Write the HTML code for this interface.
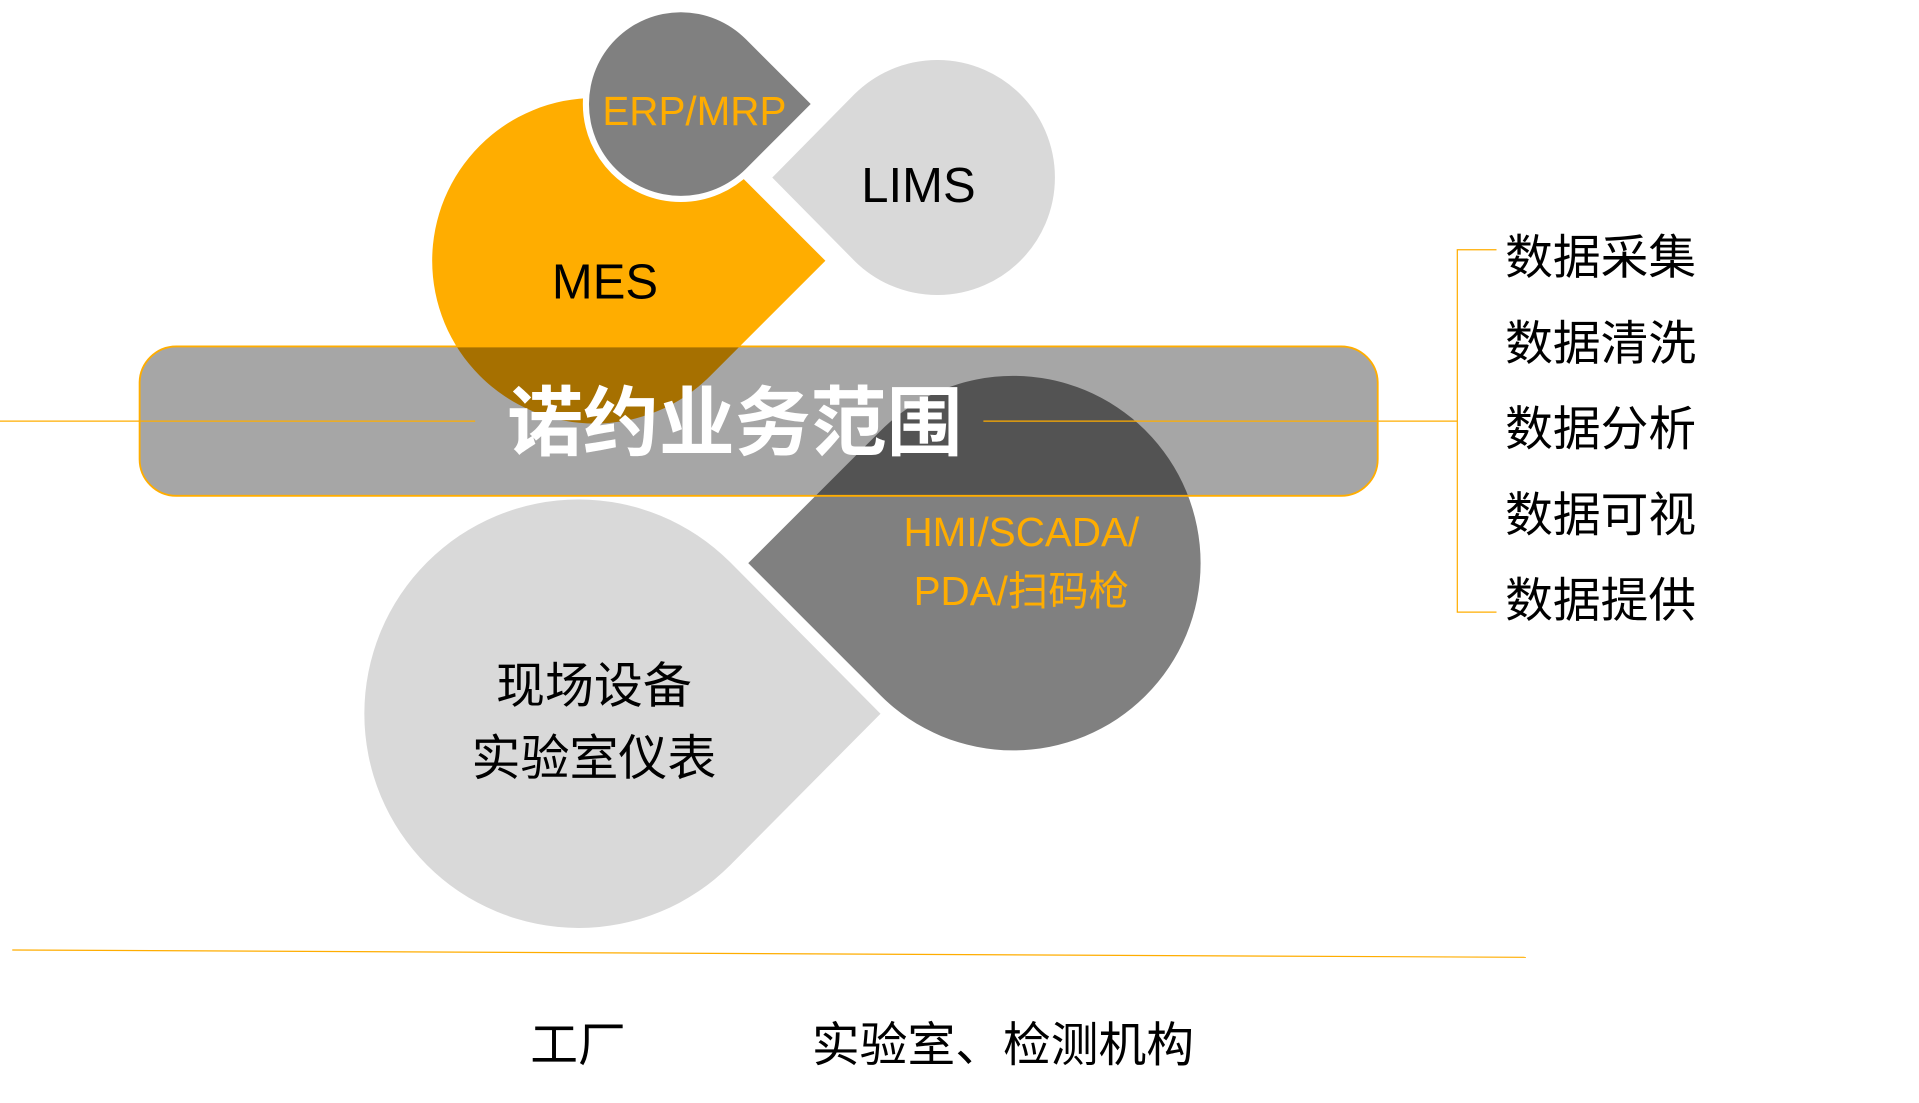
<!DOCTYPE html>
<html><head><meta charset="utf-8"><style>
html,body{margin:0;padding:0;background:#fff;width:1919px;height:1103px;overflow:hidden}
svg{display:block}
text{font-family:"Liberation Sans","Noto Sans CJK SC",sans-serif}
</style></head><body>
<svg width="1919" height="1103" viewBox="0 0 1567 901" preserveAspectRatio="none" xmlns="http://www.w3.org/2000/svg">
<rect width="1567" height="901" fill="#fff"/>
<path d="M580,119 L674,213 L580,307 A133 133 0 1 1 580,119 Z" fill="#ffad00"/>
<path d="M609,32 L662,85 L609,138 A75 75 0 1 1 609,32 Z" fill="#808080" stroke="#fff" stroke-width="10"/>
<path d="M609,32 L662,85 L609,138 A75 75 0 1 1 609,32 Z" fill="#808080"/>
<path d="M695,216 L625,145 L695,74 A100 100 0 1 1 695,216 Z" fill="#d9d9d9" stroke="#fff" stroke-width="8"/>
<path d="M596,459 L719,583 L596,707 A175 175 0 1 1 596,459 Z" fill="#d9d9d9"/>
<path d="M719,568 L611,460 L719,352 A153 153 0 1 1 719,568 Z" fill="#808080" stroke="#fff" stroke-width="9"/>
<path d="M719,568 L611,460 L719,352 A153 153 0 1 1 719,568 Z" fill="#808080"/>
<rect x="114" y="283" width="1011" height="122" rx="30" ry="30" fill="rgba(0,0,0,0.35)" stroke="#ffad00" stroke-width="1.5"/>
<line x1="0" y1="344" x2="388" y2="344" stroke="#ffad00" stroke-width="1"/>
<line x1="803" y1="344" x2="1190" y2="344" stroke="#ffad00" stroke-width="1"/>
<polyline points="1222,204 1190,204 1190,500 1222,500" fill="none" stroke="#ffad00" stroke-width="1"/>
<line x1="10" y1="776" x2="1246" y2="782" stroke="#ffad00" stroke-width="1"/>
<text x="600" y="367" font-size="62" font-weight="bold" fill="#fff" text-anchor="middle">诺约业务范围</text>
<text x="567" y="102" font-size="33" fill="#ffad00" text-anchor="middle">ERP/MRP</text>
<text x="750" y="165" font-size="40" fill="#000" text-anchor="middle">LIMS</text>
<text x="494" y="244" font-size="40" fill="#000" text-anchor="middle">MES</text>
<text x="834" y="446" font-size="33" fill="#ffad00" text-anchor="middle">HMI/SCADA/</text>
<text x="834" y="494" font-size="33" fill="#ffad00" text-anchor="middle">PDA/扫码枪</text>
<text x="485" y="574" font-size="40" fill="#000" text-anchor="middle">现场设备</text>
<text x="485" y="633" font-size="40" fill="#000" text-anchor="middle">实验室仪表</text>
<g font-size="39" fill="#000">
<text x="1229" y="224">数据采集</text>
<text x="1229" y="294">数据清洗</text>
<text x="1229" y="364">数据分析</text>
<text x="1229" y="434">数据可视</text>
<text x="1229" y="504">数据提供</text>
<text x="433" y="867">工厂</text>
<text x="663" y="867">实验室、检测机构</text>
</g>
</svg>
</body></html>
